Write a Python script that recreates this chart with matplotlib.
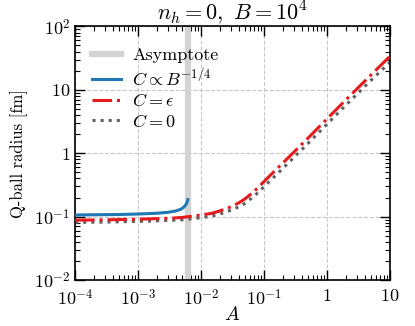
import matplotlib
matplotlib.use('Agg')
import matplotlib.pyplot as plt
from matplotlib.ticker import FixedLocator, LogLocator, NullFormatter

plt.rcParams['font.family'] = 'serif'
plt.rcParams['font.serif'] = ['cmr10']
plt.rcParams['mathtext.fontset'] = 'cm'
plt.rcParams['axes.unicode_minus'] = False

# data
asymptote_A = 6.3e-3

A_blue = [1e-4, 2e-4, 5e-4, 1e-3, 2e-3, 3e-3, 4e-3, 4.8e-3, 5.3e-3, 5.7e-3, 6.0e-3, 6.2e-3]
r_blue = [0.106, 0.107, 0.108, 0.110, 0.113, 0.117, 0.123, 0.131, 0.140, 0.152, 0.166, 0.185]

A_eps = [1e-4, 3e-4, 1e-3, 3e-3, 5e-3, 1e-2, 1.5e-2, 2e-2, 3e-2, 4e-2, 5e-2, 7e-2,
         0.1, 0.15, 0.2, 0.3, 0.5, 1.0, 2.0, 5.0, 10.0]
r_eps = [0.088, 0.089, 0.091, 0.094, 0.097, 0.106, 0.113, 0.123, 0.143, 0.165, 0.19, 0.25,
         0.355, 0.53, 0.70, 1.04, 1.72, 3.45, 6.9, 17.0, 33.5]

A_zero = [1e-4, 3e-4, 1e-3, 3e-3, 5e-3, 1e-2, 1.5e-2, 2e-2, 3e-2, 4e-2, 5e-2, 7e-2,
          0.1, 0.15, 0.2, 0.3, 0.5, 1.0, 2.0, 5.0, 10.0]
r_zero = [0.081, 0.082, 0.084, 0.087, 0.089, 0.096, 0.102, 0.110, 0.126, 0.143, 0.162, 0.21,
          0.295, 0.435, 0.575, 0.86, 1.42, 2.85, 5.7, 14.0, 27.0]

x_ticks = [1e-4, 1e-3, 1e-2, 1e-1, 1, 10]
x_labels = [r'$10^{-4}$', r'$10^{-3}$', r'$10^{-2}$', r'$10^{-1}$', r'$1$', r'$10$']
y_ticks = [1e-2, 1e-1, 1, 10, 100]
y_labels = [r'$10^{-2}$', r'$10^{-1}$', r'$1$', r'$10$', r'$10^{2}$']

fig = plt.figure(figsize=(4.15, 3.26), dpi=100)
ax = fig.add_axes([0.181, 0.141, 0.758, 0.778])

ax.axvline(asymptote_A, color='#d3d3d3', lw=4.5, label='Asymptote', zorder=1)
ax.plot(A_blue, r_blue, color='#1f77b4', lw=2.2, label=r'$C\propto B^{-1/4}$', zorder=3)
ax.plot(A_eps, r_eps, color='#e41a1c', lw=2.2, ls='-.', label=r'$C=\epsilon$', zorder=3)
ax.plot(A_zero, r_zero, color='#606060', lw=2.2, ls=':', label=r'$C=0$', zorder=2)

ax.set_xscale('log')
ax.set_yscale('log')
ax.set_xlim(1e-4, 10)
ax.set_ylim(1e-2, 1e2)

ax.xaxis.set_major_locator(FixedLocator(x_ticks))
ax.set_xticklabels(x_labels)
ax.yaxis.set_major_locator(FixedLocator(y_ticks))
ax.set_yticklabels(y_labels)
ax.xaxis.set_minor_locator(LogLocator(base=10, subs=range(2, 10), numticks=20))
ax.yaxis.set_minor_locator(LogLocator(base=10, subs=range(2, 10), numticks=20))
ax.xaxis.set_minor_formatter(NullFormatter())
ax.yaxis.set_minor_formatter(NullFormatter())

ax.tick_params(which='both', direction='in', top=True, right=True, labelsize=13)
ax.tick_params(which='major', length=7, width=1)
ax.tick_params(which='minor', length=3.5, width=0.8)
ax.tick_params(axis='x', which='major', pad=6)
for s in ax.spines.values():
    s.set_linewidth(1.2)

ax.grid(True, which='major', ls='--', color='#c8c8c8', lw=0.8)
ax.set_axisbelow(True)

ax.set_xlabel(r'$A$', fontsize=14, labelpad=-2)
ax.set_ylabel('Q-ball radius [fm]', fontsize=12)
ax.set_title(r'$n_h=0,\ B=10^4$', fontsize=16, pad=5)

ax.legend(loc='upper left', bbox_to_anchor=(0.02, 0.96), frameon=False, fontsize=13,
          handlelength=1.6, borderaxespad=0.2, labelspacing=0.18, handletextpad=0.6)

plt.savefig('out.png', dpi=100)
